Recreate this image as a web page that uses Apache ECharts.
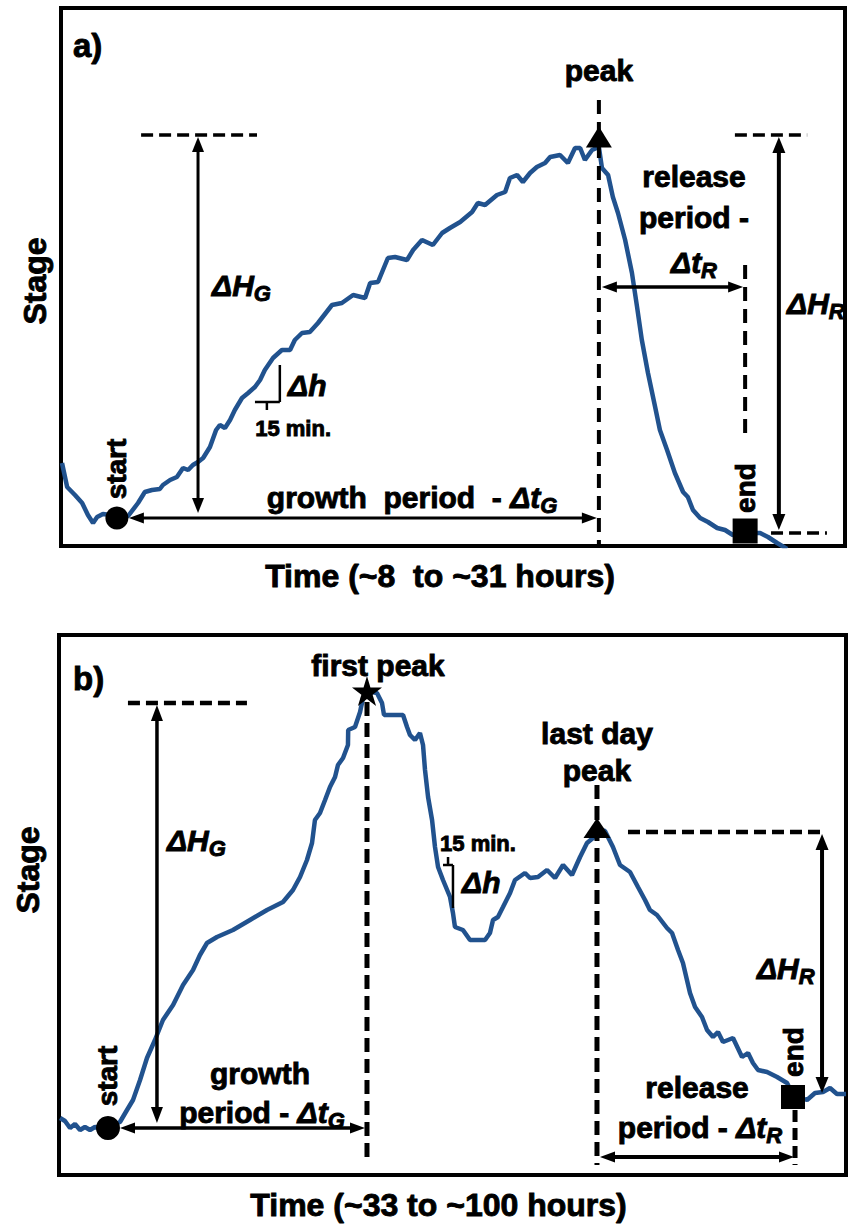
<!DOCTYPE html>
<html>
<head>
<meta charset="utf-8">
<script src="https://cdn.jsdelivr.net/npm/echarts@6/dist/echarts.min.js"></script>
<style>
  html, body { margin: 0; padding: 0; background: #fff; }
  #chart { width: 848px; height: 1226px; }
</style>
</head>
<body>
<div id="chart"></div>
<script>
// ---- a) single event, roughly 8 to 31 hours (stage in relative units) ----
const timeA = [
  8.03, 8.18, 8.41, 8.62, 8.79, 8.94, 9.06, 9.23, 9.44, 9.64,
  9.97, 10.26, 10.46, 10.67, 10.90, 10.99, 11.20, 11.40, 11.58, 11.73,
  11.87, 12.02, 12.17, 12.37, 12.55, 12.66, 12.81, 12.96, 13.10, 13.31,
  13.49, 13.69, 13.84, 13.98, 14.04, 14.22, 14.48, 14.72, 14.86, 15.07,
  15.30, 15.54, 15.95, 16.24, 16.57, 16.92, 17.07, 17.30, 17.59, 17.80,
  18.15, 18.33, 18.59, 18.91, 19.18, 19.41, 19.71, 20.06, 20.23, 20.44,
  20.79, 21.03, 21.17, 21.38, 21.55, 21.76, 21.96, 22.20, 22.35, 22.64,
  22.87, 23.08, 23.23, 23.37, 23.58, 23.78, 23.87, 24.05, 24.19, 24.34,
  24.55, 24.75, 24.90, 25.04, 25.22, 25.43, 25.57, 25.78, 26.01, 26.25,
  26.39, 26.54, 26.75, 26.98, 27.25, 27.48, 27.71, 28.07, 28.51, 28.74,
  29.01, 29.30
];
const stageA = [
  8.3, 5.9, 5.1, 4.3, 3.1, 2.3, 2.9, 3.2, 3.1, 2.8,
  3.0, 4.3, 5.4, 5.6, 5.7, 6.1, 6.6, 6.9, 7.8, 7.6,
  8.1, 8.4, 8.8, 9.9, 11.6, 12.1, 11.8, 12.6, 13.6, 14.8,
  15.3, 15.9, 16.6, 17.6, 17.9, 18.8, 19.6, 19.6, 20.6, 21.3,
  21.4, 22.3, 24.1, 24.3, 25.1, 24.8, 26.3, 26.4, 28.8, 28.9,
  28.6, 29.6, 30.6, 30.1, 31.3, 31.8, 32.4, 33.4, 34.3, 34.1,
  35.1, 35.4, 36.8, 37.1, 36.4, 37.3, 37.9, 38.3, 38.9, 39.1,
  38.3, 39.8, 39.8, 38.6, 39.6, 39.9, 37.8, 37.1, 34.9, 33.3,
  30.6, 27.3, 23.9, 20.6, 17.3, 13.9, 11.6, 9.6, 7.3, 5.4,
  4.9, 3.6, 2.8, 2.4, 1.8, 1.6, 1.1, 1.3, 1.3, 0.9,
  0.3, -0.3
];
// indices of the start, peak and end of the event
const startA = 9, peakA = 75, endA = 97;

// ---- b) multi-day event, roughly 33 to 100 hours ----
const timeB = [
  33.09, 33.51, 33.94, 34.36, 34.79, 35.21, 35.64, 36.06, 36.58, 37.17,
  37.77, 38.19, 38.79, 39.30, 39.90, 40.49, 41.17, 41.85, 42.71, 43.56,
  44.41, 45.00, 45.60, 46.45, 47.81, 49.26, 50.71, 52.07, 52.92, 53.52,
  54.11, 54.54, 54.79, 55.22, 55.65, 56.07, 56.50, 56.75, 57.18, 57.60,
  57.62, 58.20, 58.63, 58.88, 59.22, 59.65, 60.07, 60.50, 60.67, 61.44,
  62.29, 62.63, 62.88, 63.31, 63.73, 63.99, 64.16, 64.42, 64.76, 65.01,
  65.27, 65.69, 66.29, 66.54, 66.71, 67.39, 67.99, 68.59, 69.27, 69.69,
  69.95, 70.37, 70.80, 71.40, 71.82, 72.67, 73.10, 73.78, 74.55, 75.23,
  75.91, 76.67, 77.36, 77.95, 78.46, 78.80, 79.48, 80.16, 80.76, 81.61,
  82.29, 82.89, 83.31, 83.91, 84.76, 85.19, 85.70, 86.12, 86.46, 86.72,
  87.15, 87.74, 88.17, 88.68, 89.10, 89.53, 90.38, 91.15, 91.66, 92.08,
  92.51, 93.28, 94.13, 94.98, 95.49, 96.68, 97.36, 98.04, 98.64, 99.23,
  100.0
];
const stageB = [
  5.7, 5.4, 4.7, 5.1, 4.5, 4.8, 4.5, 4.8, 4.6, 4.7,
  5.1, 5.3, 6.5, 7.5, 9.5, 11.7, 13.5, 15.5, 17.0, 19.0,
  20.5, 22.0, 23.2, 23.8, 24.5, 25.5, 26.5, 27.3, 28.5, 29.8,
  31.5, 33.2, 35.5, 36.2, 37.5, 38.8, 39.8, 41.0, 41.7, 43.0,
  44.5, 44.8, 46.3, 47.7, 48.1, 48.3, 48.2, 47.2, 46.0, 46.0,
  46.0, 44.8, 44.0, 43.5, 44.2, 43.0, 40.5, 37.8, 35.5, 32.8,
  30.8, 29.5, 27.8, 26.2, 24.8, 24.5, 23.5, 23.5, 23.5, 24.2,
  25.5, 25.8, 26.8, 28.2, 29.5, 30.2, 29.7, 29.8, 30.5, 29.7,
  31.0, 30.0, 31.8, 33.2, 33.7, 34.6, 34.4, 32.8, 31.0, 30.3,
  28.8, 27.5, 26.5, 26.0, 24.7, 24.2, 22.5, 21.2, 19.5, 18.2,
  16.8, 15.8, 14.5, 13.8, 14.3, 13.3, 13.7, 11.8, 12.2, 11.2,
  10.5, 10.3, 9.8, 9.2, 8.0, 7.5, 8.2, 8.3, 8.7, 8.1,
  8.1
];
// indices of the start, first peak, last-day peak and end
const startB = 9, firstPeakB = 44, lastPeakB = 85, endB = 114;

// ---- drawing helpers ----
const FAMILY = '"Liberation Sans", Arial, Helvetica, sans-serif';
const INK = '#000';
const CURVE = '#21528e';
const HEAVY = 0.9;   // extra outline that thickens the bold lettering
const measureCtx = document.createElement('canvas').getContext('2d');
function fontOf(size, italic) {
  return (italic ? 'italic ' : '') + 'bold ' + size + 'px ' + FAMILY;
}
function textWidth(str, font) {
  measureCtx.font = font;
  return measureCtx.measureText(str).width;
}
// segs: [text, italic, subscript]
function label(pt, segs, size, align) {
  const parts = segs.map(([t, italic, sub]) => {
    const s = sub ? Math.round(size * 0.72) : size;
    const f = fontOf(s, italic);
    return { t, f, w: textWidth(t, f), sub };
  });
  const total = parts.reduce((a, p) => a + p.w, 0);
  let x = align === 'left' ? pt[0] : align === 'right' ? pt[0] - total : pt[0] - total / 2;
  return parts.map(p => {
    const el = {
      type: 'text', x: x, y: pt[1] + (p.sub ? size * 0.27 : 0),
      style: { text: p.t, font: p.f, fill: INK, stroke: INK, lineWidth: HEAVY, align: 'left', verticalAlign: 'middle' }
    };
    x += p.w;
    return el;
  });
}
function upright(pt, str, size) {
  return {
    type: 'text', x: pt[0], y: pt[1], rotation: Math.PI / 2,
    style: { text: str, font: fontOf(size, false), fill: INK, stroke: INK, lineWidth: HEAVY, align: 'center', verticalAlign: 'middle' }
  };
}
function seg(a, b, lw, pattern) {
  const style = { stroke: INK, lineWidth: lw };
  if (pattern) style.lineDash = pattern;
  return { type: 'line', shape: { x1: a[0], y1: a[1], x2: b[0], y2: b[1] }, style };
}
function arrow(a, b, lw, hl, hw) {
  const dx = b[0] - a[0], dy = b[1] - a[1];
  const len = Math.hypot(dx, dy) || 1, ux = dx / len, uy = dy / len, nx = -uy, ny = ux;
  const head = (tip, dx2, dy2) => ({
    type: 'polygon',
    shape: { points: [
      [tip[0], tip[1]],
      [tip[0] - dx2 * hl + nx * hw / 2, tip[1] - dy2 * hl + ny * hw / 2],
      [tip[0] - dx2 * hl - nx * hw / 2, tip[1] - dy2 * hl - ny * hw / 2]
    ] },
    style: { fill: INK }
  });
  return [
    seg([a[0] + ux * hl * 0.8, a[1] + uy * hl * 0.8], [b[0] - ux * hl * 0.8, b[1] - uy * hl * 0.8], lw),
    head(a, -ux, -uy),
    head(b, ux, uy)
  ];
}

// ---- annotations of panel a ----
function renderA(params, api) {
  const at = (x, y) => api.coord([x, y]);
  const S = at(timeA[startA], stageA[startA]);
  const P = at(timeA[peakA], stageA[peakA]);
  const E = at(timeA[endA], stageA[endA]);
  const X = v => at(v, 0)[0];
  const Y = v => at(10, v)[1];
  const top = Y(41.1);           // level of the peak marker
  const els = [];
  // growth height
  els.push(seg([X(10.35), top], [X(13.75), top], 3.5, [12, 6]));
  els.push(...arrow([X(12.02), top + 2], [X(12.02), S[1] - 5], 3, 15, 12));
  // growth period
  els.push(...arrow([S[0] + 12, S[1]], [P[0] - 2, S[1]], 3, 15, 11));
  els.push(seg([P[0], Y(44.6)], [P[0], Y(0)], 4, [14, 8]));
  // release period
  els.push(...arrow([P[0] + 3, Y(25.9)], [E[0] - 2, Y(25.9)], 3.5, 15, 11));
  els.push(seg([E[0], Y(28.1)], [E[0], Y(10.9)], 4, [14, 8]));
  // release height
  els.push(seg([X(27.77), top], [X(29.89), top], 3.5, [12, 6]));
  els.push(...arrow([X(29.06), top + 2], [X(29.06), E[1] - 3], 4, 16, 13));
  els.push(seg([X(28.83), E[1]], [X(30.47), E[1]], 3.5, [12, 6]));
  // 15-minute step
  const cx = X(14.42), cy = Y(14.4);
  els.push(seg([cx, Y(18.1)], [cx, cy], 2.5));
  els.push(seg([X(13.69), cy], [cx, cy], 2.5));
  els.push(seg([X(14.04), cy], [X(14.04), cy + 8], 2.5));
  // text
  els.push(...label([X(8.35), Y(50.1)], [['a)', false]], 33, 'left'));
  els.push(...label([P[0], Y(47.6)], [['peak', false]], 30, 'center'));
  els.push(...label([X(26.57), Y(37.0)], [['release', false]], 30, 'center'));
  els.push(...label([X(26.57), Y(32.9)], [['period -', false]], 30, 'center'));
  els.push(...label([X(26.57), Y(28.4)], [['\u0394t', true], ['R', true, true]], 30, 'center'));
  els.push(...label([X(12.43), Y(26.1)], [['\u0394H', true], ['G', true, true]], 30, 'left'));
  els.push(...label([X(14.66), Y(16.1)], [['\u0394h', true]], 30, 'left'));
  els.push(...label([X(14.81), Y(11.8)], [['15 min.', false]], 22, 'center'));
  els.push(...label([X(18.30), Y(4.9)], [['growth  period  - ', false], ['\u0394t', true], ['G', true, true]], 30, 'center'));
  els.push(...label([X(29.30), Y(24.3)], [['\u0394H', true], ['R', true, true]], 30, 'left'));
  els.push(upright([S[0], Y(7.7)], 'start', 28));
  els.push(upright([E[0], Y(5.8)], 'end', 28));
  return { type: 'group', children: els };
}

// ---- annotations of panel b ----
function renderB(params, api) {
  const at = (x, y) => api.coord([x, y]);
  const S = at(timeB[startB], stageB[startB]);
  const F = at(timeB[firstPeakB], stageB[firstPeakB]);
  const L = at(timeB[lastPeakB], stageB[lastPeakB]);
  const E = at(timeB[endB], stageB[endB]);
  const X = v => at(v, 0)[0];
  const Y = v => at(50, v)[1];
  const els = [];
  // growth height
  const topG = Y(47.2);
  els.push(seg([X(38.87), topG], [X(49.0), topG], 4.5, [12, 6]));
  els.push(...arrow([X(41.34), topG + 2], [X(41.34), S[1] - 5], 3.5, 16, 12));
  // growth period
  els.push(...arrow([S[0] + 12, S[1]], [F[0] - 2, S[1]], 3.5, 15, 11));
  els.push(seg([F[0], F[1] + 8], [F[0], Y(1.2)], 5, [14, 7]));
  // last-day peak and release
  els.push(seg([L[0], Y(39.0)], [L[0], Y(1.0)], 5, [14, 7]));
  const topR = Y(34.3);
  els.push(seg([X(81.44), topR], [X(97.96), topR], 4.5, [12, 6]));
  els.push(...arrow([X(97.96), topR + 2], [X(97.96), E[1] - 2], 4, 16, 13));
  els.push(...arrow([L[0] + 3, Y(1.8)], [E[0] + 1, Y(1.8)], 4, 15, 11));
  els.push(seg([E[0] + 2, Y(6.5)], [E[0] + 2, Y(1.0)], 5, [12, 6]));
  // 15-minute step
  const cx = X(66.54), cy = Y(31.0);
  els.push(seg([cx, cy], [cx, Y(26.7)], 2.5));
  els.push(seg([X(65.69), cy], [cx, cy], 2.5));
  els.push(seg([X(66.12), cy], [X(66.12), cy - 8], 2.5));
  // text
  els.push(...label([X(34.19), Y(49.7)], [['b)', false]], 33, 'left'));
  els.push(...label([X(60.16), Y(51.0)], [['first peak', false]], 30, 'center'));
  els.push(...label([L[0], Y(44.2)], [['last day', false]], 30, 'center'));
  els.push(...label([L[0], Y(40.5)], [['peak', false]], 30, 'center'));
  els.push(...label([X(42.19), Y(33.5)], [['\u0394H', true], ['G', true, true]], 30, 'left'));
  els.push(...label([X(68.67), Y(33.2)], [['15 min.', false]], 22, 'center'));
  els.push(...label([X(67.31), Y(29.3)], [['\u0394h', true]], 30, 'left'));
  els.push(...label([X(50.11), Y(10.2)], [['growth', false]], 30, 'center'));
  els.push(...label([X(50.28), Y(6.3)], [['period - ', false], ['\u0394t', true], ['G', true, true]], 30, 'center'));
  els.push(...label([X(92.42), Y(20.7)], [['\u0394H', true], ['R', true, true]], 30, 'left'));
  els.push(...label([X(87.32), Y(8.8)], [['release', false]], 30, 'center'));
  els.push(...label([X(87.57), Y(4.8)], [['period - ', false], ['\u0394t', true], ['R', true, true]], 30, 'center'));
  els.push(upright([S[0], Y(9.9)], 'start', 28));
  els.push(upright([E[0], Y(12.3)], 'end', 28));
  return { type: 'group', children: els };
}

const STAR = 'path://M50,0 L61,35 L98,35 L68,57 L79,91 L50,70 L21,91 L32,57 L2,35 L39,35 Z';
const pair = (t, s) => t.map((v, i) => [v, s[i]]);
const titleStyle = { fontSize: 32, fontWeight: 'bold', fontFamily: FAMILY, color: INK,
  textBorderColor: INK, textBorderWidth: HEAVY };
const bareAxis = {
  type: 'value', axisLine: { show: false }, axisTick: { show: false },
  axisLabel: { show: false }, splitLine: { show: false }, nameLocation: 'middle'
};

const chart = echarts.init(document.getElementById('chart'), null, { renderer: 'svg', width: 848, height: 1226 });
chart.setOption({
  backgroundColor: '#fff',
  animation: false,
  grid: [
    { left: 61, top: 8, width: 784, height: 538, show: true, borderColor: INK, borderWidth: 4 },
    { left: 59, top: 635, width: 787, height: 540, show: true, borderColor: INK, borderWidth: 4 }
  ],
  xAxis: [
    Object.assign({}, bareAxis, { gridIndex: 0, min: 8, max: 31, name: 'Time (~8  to ~31 hours)', nameGap: 14,
      nameTextStyle: Object.assign({ padding: [0, 26, 0, 0] }, titleStyle) }),
    Object.assign({}, bareAxis, { gridIndex: 1, min: 33, max: 100, name: 'Time (~33 to ~100 hours)', nameGap: 14,
      nameTextStyle: Object.assign({ padding: [0, 28, 0, 0] }, titleStyle) })
  ],
  yAxis: [
    Object.assign({}, bareAxis, { gridIndex: 0, min: 0, max: 53.8, name: 'Stage', nameGap: 10, nameRotate: 90,
      nameTextStyle: Object.assign({ padding: [0, 8, 0, 0] }, titleStyle) }),
    Object.assign({}, bareAxis, { gridIndex: 1, min: 0, max: 54.0, name: 'Stage', nameGap: 15, nameRotate: 90,
      nameTextStyle: Object.assign({ padding: [0, 0, 0, 70] }, titleStyle) })
  ],
  series: [
    { type: 'line', xAxisIndex: 0, yAxisIndex: 0, data: pair(timeA, stageA), showSymbol: false,
      lineStyle: { color: CURVE, width: 4.5 }, z: 2, silent: true },
    { type: 'line', xAxisIndex: 1, yAxisIndex: 1, data: pair(timeB, stageB), showSymbol: false,
      lineStyle: { color: CURVE, width: 4.5 }, z: 2, silent: true },
    { type: 'custom', xAxisIndex: 0, yAxisIndex: 0, renderItem: renderA,
      data: [[timeA[peakA], stageA[peakA]]], z: 3, silent: true },
    { type: 'custom', xAxisIndex: 1, yAxisIndex: 1, renderItem: renderB,
      data: [[timeB[firstPeakB], stageB[firstPeakB]]], z: 3, silent: true },
    { type: 'scatter', xAxisIndex: 0, yAxisIndex: 0, z: 4, silent: true, itemStyle: { color: INK, opacity: 1 },
      data: [
        { value: [timeA[startA], stageA[startA]], symbol: 'circle', symbolSize: 23 },
        { value: [timeA[peakA], stageA[peakA]], symbol: 'triangle', symbolSize: [26, 21], symbolOffset: [0, -10] },
        { value: [timeA[endA], stageA[endA]], symbol: 'rect', symbolSize: 25, symbolOffset: [0, -2] }
      ] },
    { type: 'scatter', xAxisIndex: 1, yAxisIndex: 1, z: 4, silent: true, itemStyle: { color: INK, opacity: 1 },
      data: [
        { value: [timeB[startB], stageB[startB]], symbol: 'circle', symbolSize: 24 },
        { value: [timeB[firstPeakB], stageB[firstPeakB]], symbol: STAR, symbolSize: 30, symbolOffset: [0, -3] },
        { value: [timeB[lastPeakB], stageB[lastPeakB]], symbol: 'triangle', symbolSize: [27, 20], symbolOffset: [0, -1] },
        { value: [timeB[endB], stageB[endB]], symbol: 'rect', symbolSize: 24, symbolOffset: [0, 2] }
      ] }
  ]
});
</script>
</body>
</html>
